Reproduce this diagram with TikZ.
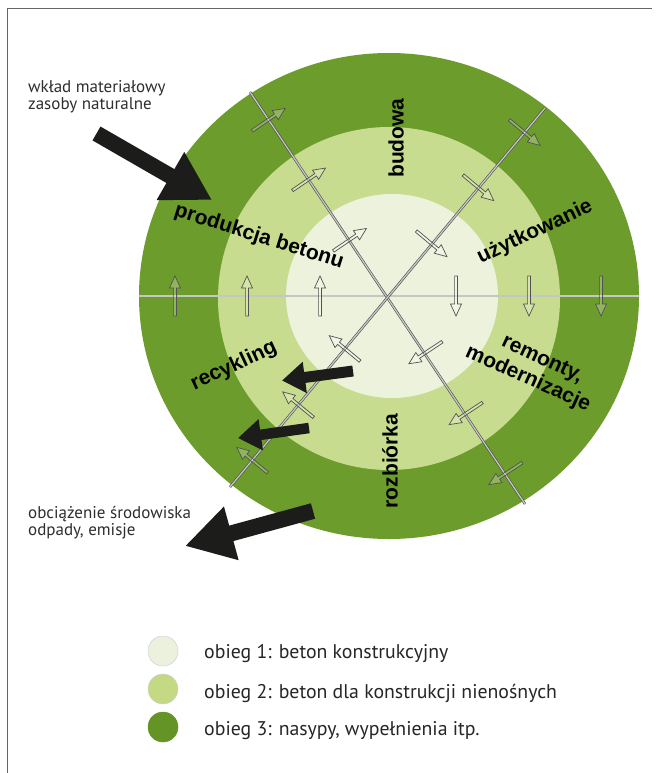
\documentclass[tikz,border=0pt]{standalone}
\usepackage{fontspec}
\setmainfont{PT Sans}
\newfontfamily\labfont{Liberation Sans}
\usetikzlibrary{arrows.meta,calc}
\definecolor{gout}{RGB}{108,156,44}
\definecolor{gmid}{RGB}{200,220,144}
\definecolor{gin}{RGB}{236,242,220}
\definecolor{lg1}{RGB}{236,241,222}
\definecolor{lg2}{RGB}{196,217,132}
\definecolor{lg3}{RGB}{100,148,38}
\definecolor{ink}{RGB}{28,28,26}
\tikzset{
  dline/.style={draw=black!70, line width=0.6pt, double=gray!45, double distance=1.3pt},
  harrowline/.style={draw=black!68, line width=0.7pt, fill=white, fill opacity=0.25},
  harrow/.pic={\path[harrowline] (-20,-1.4) -- (8,-1.4) -- (8,-5.5) -- (20,0) -- (8,5.5) -- (8,1.4) -- (-20,1.4) -- cycle;},
  bigarrow/.style={draw=ink, line width=16pt, -{Triangle[length=48pt,width=52pt]}},
  midarrow/.style={draw=ink, line width=11pt, -{Triangle[length=23pt,width=30pt]}},
  cyc/.style={font=\labfont\bfseries\fontsize{21}{21}\selectfont, inner sep=0pt},
  note/.style={font=\fontsize{17}{18}\selectfont, anchor=base west, inner sep=0pt, text=black!82},
  legtext/.style={font=\fontsize{19.8}{22}\selectfont, anchor=base west, inner sep=0pt, text=black!85},
  legdot/.style={circle, minimum size=30pt, inner sep=0pt, draw=black!18, line width=0.5pt}
}
\begin{document}
\begin{tikzpicture}[x=1pt,y=-1pt]
\useasboundingbox (0,0) rectangle (657,773);
\fill[white] (0,0) rectangle (657,773);
\draw[black!60, line width=0.8pt] (7,773) -- (7,8) -- (652,8);

% rings
\coordinate (c) at (388,296);
\fill[gout] (389,296) ellipse [x radius=250, y radius=243];
\fill[gmid] (389,298.5) ellipse [x radius=171, y radius=171.5];
\fill[gin] (392,296) ellipse [x radius=106, y radius=102];

% double lines
\coordinate (hW) at (139,296);
\coordinate (hE) at (639,296);
\coordinate (aN) at (250,92);
\coordinate (aS) at (525,504);
\coordinate (bN) at (545,108);
\coordinate (bS) at (230,487);
\draw[dline] (hW) -- (hE);
\draw[dline] (aN) -- (aS);
\draw[dline] (bN) -- (bS);

% small hollow arrows (clockwise)
\foreach \ang in {180,124.1,50.1,0,-56.5,230.4}{
  \foreach \r in {68,141,213}{
    \pic[rotate=\ang-90] at ($(c)+({\r*cos(\ang)},{-\r*sin(\ang)})$) {harrow};
  }
}

% big black arrows
\coordinate (inT) at (96.5,133.5);
\coordinate (inH) at (212,200);
\coordinate (outT) at (313,511);
\coordinate (outH) at (185,546);
\coordinate (r1T) at (353,371);
\coordinate (r1H) at (282,380.5);
\coordinate (r2T) at (309,428);
\coordinate (r2H) at (238,438);
\draw[bigarrow] (inT) -- (inH);
\draw[bigarrow] (outT) -- (outH);
\draw[midarrow] (r1T) -- (r1H);
\draw[midarrow, line width=10.5pt] (r2T) -- (r2H);

% cycle labels
\node[cyc, rotate=90] (budowa) at (396,138) {budowa};
\node[cyc, rotate=90] (rozb) at (390,461) {rozbiórka};
\node[cyc, rotate=-17.5] (prod) at (259,237) {produkcja betonu};
\node[cyc, rotate=25.5] (uzyt) at (535,232) {użytkowanie};
\node[cyc, rotate=25] (recy) at (234,366) {recykling};
\node[cyc, rotate=-25] (remo) at (542,360) {remonty,};
\node[cyc, rotate=-24] (mode) at (528,379) {modernizacje};

% side notes
\node[note] (in1) at (28,92.5) {wkład materiałowy};
\node[note] (in2) at (28,110) {zasoby naturalne};
\node[note] (out1) at (28,518.5) {obciążenie środowiska};
\node[note] (out2) at (28,535.5) {odpady, emisje};

% legend
\node[legdot, fill=lg1] (d1) at (163,651) {};
\node[legdot, fill=lg2] (d2) at (163,689) {};
\node[legdot, fill=lg3, draw=lg3] (d3) at (163,727) {};
\node[legtext] (t1) at (204,658) {obieg 1: beton konstrukcyjny};
\node[legtext] (t2) at (204,698) {obieg 2: beton dla konstrukcji nienośnych};
\node[legtext] (t3) at (204,735) {obieg 3: nasypy, wypełnienia itp.};
\end{tikzpicture}
\end{document}
